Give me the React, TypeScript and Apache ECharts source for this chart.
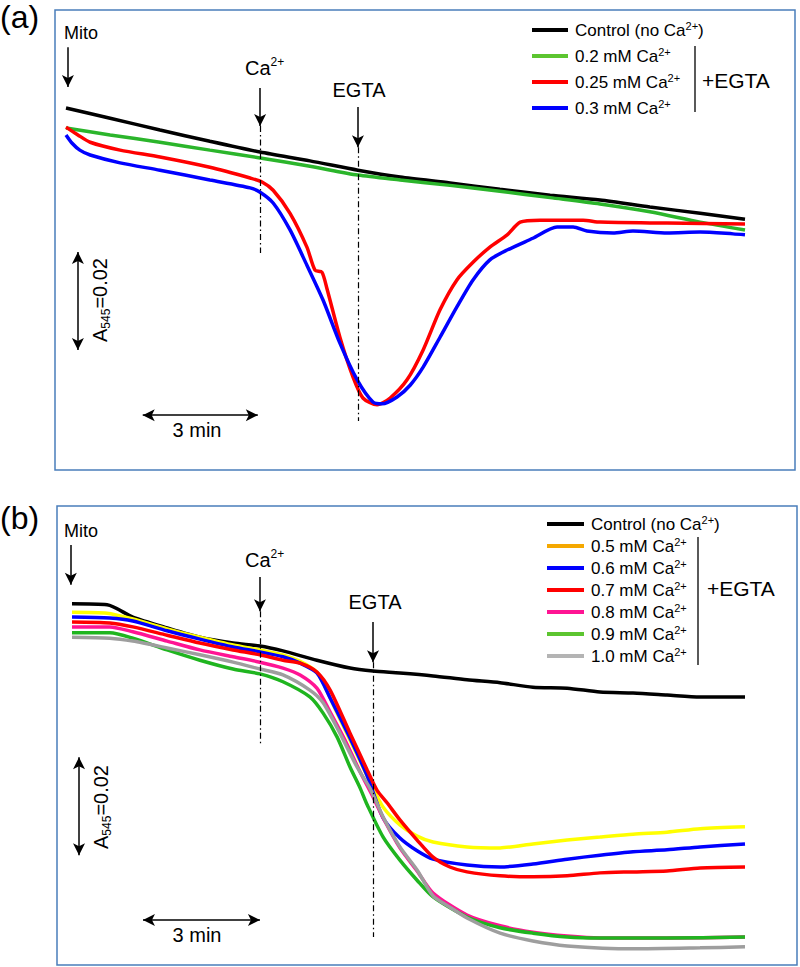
import React, { useEffect, useRef } from 'react';
import * as echarts from 'echarts';

const FONT = '"Liberation Sans", Arial, Helvetica, sans-serif';

// x: time in minutes after mitochondria addition; y: A545 x 1000 (arbitrary offset)
// ---------- Panel (a) ----------
const aNames = ['Control (no Ca2+)', '0.2 mM Ca2+', '0.25 mM Ca2+', '0.3 mM Ca2+'];
const aColors = ['#000000', '#2bb52b', '#ff0000', '#0000ff'];
const aLegendColors = ['#000000', '#5cc530', '#ff0000', '#0000ff'];

const aControl = [[0,73.9],[1.15,71.8],[2.45,69.4],[3.75,67.1],[5.06,64.9],[6.36,63.1],[7.61,61.2],[8.71,59.8],[10.01,58.6],[11.31,57.3],[12.62,56.1],[13.92,55.1],[15.22,53.7],[16.53,52.4],[17.7,51.2]];
const aCa020 = [[0,69.8],[1.15,68.4],[2.45,66.9],[3.75,65.3],[5.06,63.7],[6.36,62.0],[7.61,60.2],[8.71,59.2],[10.01,58.1],[11.31,56.9],[12.62,55.6],[13.92,54.3],[15.22,52.7],[16.53,50.6],[17.7,49.0]];
const aCa025 = [[0,70.0],[0.31,68.4],[0.63,66.9],[1.41,65.3],[2.45,63.9],[3.75,61.8],[4.8,59.6],[5.11,58.8],[5.4,57.1],[5.84,52.4],[6.28,45.5],[6.49,40.8],[6.67,40.4],[6.8,37.1],[7.14,27.1],[7.48,19.0],[7.74,14.7],[8.11,13.3],[8.45,14.7],[8.89,18.4],[9.31,24.5],[9.75,32.7],[10.19,38.8],[10.61,42.4],[11.05,45.5],[11.5,48.0],[11.84,50.6],[12.36,51.0],[13.48,51.0],[13.92,50.6],[15.67,50.4],[17.7,50.2]];
const aCa030 = [[0,68.4],[0.16,66.7],[0.36,65.3],[0.63,64.3],[1.41,62.7],[2.45,61.2],[3.75,59.2],[4.8,57.6],[5.06,56.7],[5.4,54.5],[5.84,49.0],[6.28,41.8],[6.7,34.7],[7.14,25.9],[7.59,18.4],[8.0,13.9],[8.24,13.5],[8.63,14.9],[8.97,17.3],[9.31,21.0],[9.75,27.1],[10.19,33.3],[10.61,38.8],[11.05,42.9],[11.5,44.9],[12.17,47.3],[12.8,49.6],[13.22,49.6],[13.58,48.8],[14.26,48.4],[14.78,48.8],[15.67,48.4],[16.53,48.6],[17.39,48.2],[17.7,48.0]];
const aSeries = [aControl, aCa020, aCa025, aCa030];
// event times (min): Mito, Ca2+, EGTA
const aEvents = [0.05, 5.06, 7.61];

// ---------- Panel (b) ----------
const bNames = ['Control (no Ca2+)', '0.5 mM Ca2+', '0.6 mM Ca2+', '0.7 mM Ca2+', '0.8 mM Ca2+', '0.9 mM Ca2+', '1.0 mM Ca2+'];
const bColors = ['#000000', '#ffff00', '#0000ff', '#ff0000', '#ff1493', '#1fb51f', '#9e9e9e'];
const bLegendColors = ['#000000', '#f5a800', '#0000ff', '#ff0000', '#ff1493', '#5cc530', '#b4b4b4'];

const bControl = [[0,73.7],[0.9,73.5],[1.56,71.0],[2.44,68.8],[3.28,66.9],[4.13,65.7],[4.82,65.1],[5.41,64.1],[6.28,62.2],[7.13,60.6],[7.72,60.0],[8.41,59.6],[9.26,59.0],[10.13,58.2],[10.98,57.6],[11.82,56.7],[12.7,56.5],[13.54,55.7],[14.39,55.5],[15.26,55.1],[16.11,54.7],[17.26,54.7]];
const bCa05 = [[0,72.0],[0.9,71.8],[1.56,70.6],[2.44,68.6],[3.28,66.9],[4.13,65.3],[4.82,64.3],[5.41,63.3],[5.85,62.0],[6.28,59.8],[6.44,57.6],[6.8,51.4],[7.13,45.9],[7.46,40.4],[7.72,36.1],[7.98,32.2],[8.41,28.6],[8.85,26.3],[9.26,25.1],[10.13,24.1],[10.98,23.9],[11.82,24.7],[12.7,25.5],[13.54,26.1],[14.39,26.7],[15.26,27.1],[16.11,27.8],[17.26,28.2]];
const bCa06 = [[0,71.0],[0.97,70.8],[1.56,70.2],[2.44,68.2],[3.28,66.5],[4.13,64.9],[4.82,63.9],[5.41,62.9],[5.85,61.6],[6.28,59.6],[6.62,54.5],[7.13,46.3],[7.57,38.6],[7.98,30.0],[8.41,25.9],[8.85,23.3],[9.26,21.6],[10.13,20.4],[10.98,20.0],[11.82,20.6],[12.7,21.6],[13.54,22.4],[14.39,23.1],[15.26,23.5],[16.11,24.1],[17.26,24.7]];
const bCa07 = [[0,70.0],[0.97,69.8],[1.56,69.0],[2.44,67.3],[3.28,65.7],[4.13,64.3],[4.82,63.3],[5.41,62.2],[5.85,61.6],[6.28,59.8],[6.62,56.1],[7.13,47.3],[7.57,39.8],[7.82,35.7],[8.08,33.1],[8.41,29.6],[8.85,25.5],[9.26,22.0],[9.69,20.0],[10.13,19.0],[10.98,18.2],[11.82,18.0],[12.7,18.2],[13.54,18.8],[14.39,19.0],[15.26,19.2],[16.11,19.8],[17.26,20.0]];
const bCa08 = [[0,69.0],[0.97,69.0],[1.56,68.0],[2.44,66.1],[3.28,64.3],[4.13,62.9],[4.82,61.8],[5.41,60.6],[5.85,59.2],[6.28,56.5],[6.62,51.6],[7.0,45.9],[7.39,39.4],[7.72,34.3],[7.98,30.0],[8.41,23.9],[8.85,19.2],[9.26,14.7],[10.13,10.2],[10.98,8.0],[11.82,6.7],[12.7,5.9],[13.54,5.5],[15.26,5.5],[17.26,5.7]];
const bCa09 = [[0,67.8],[0.97,67.8],[1.56,66.7],[2.44,64.3],[3.28,62.2],[4.13,60.4],[4.82,59.4],[5.41,57.8],[6.1,54.7],[6.44,51.4],[6.8,46.5],[7.13,40.4],[7.39,36.1],[7.57,32.7],[7.98,26.1],[8.41,21.4],[8.85,17.3],[9.26,13.9],[10.13,9.8],[10.98,7.6],[11.82,6.5],[12.7,5.7],[13.54,5.5],[15.26,5.5],[17.26,5.7]];
const bCa10 = [[0,66.9],[0.97,66.7],[1.56,66.1],[2.44,64.7],[3.28,63.3],[4.13,61.8],[4.82,60.4],[5.41,59.2],[6.1,56.1],[6.44,53.5],[6.87,47.3],[7.31,40.4],[7.64,36.1],[7.98,30.2],[8.41,24.1],[8.85,19.4],[9.26,14.1],[9.69,11.8],[10.13,9.6],[10.98,6.5],[11.82,4.9],[12.7,3.9],[14.39,3.3],[16.11,3.5],[17.26,3.7]];
const bSeries = [bControl, bCa05, bCa06, bCa07, bCa08, bCa09, bCa10];
const bEvents = [-0.03, 4.82, 7.72];

const fmt = (s: string) => s.replace('Ca2+', 'Ca{sup|2+}');

const supStyle = (size: number) => ({ fontSize: size, lineHeight: size + 1, verticalAlign: 'top', fontFamily: FONT, fill: '#000', color: '#000' });
const subStyle = (size: number) => ({ fontSize: size, lineHeight: size + 1, verticalAlign: 'bottom', fontFamily: FONT, fill: '#000', color: '#000' });

function txt(text: string, x: number, y: number, size: number, align = 'center', extra: any = {}) {
  return {
    type: 'text', x, y, silent: true, ...extra,
    style: {
      text, fill: '#000', fontSize: size, fontFamily: FONT, lineHeight: size + 4,
      align, verticalAlign: 'middle', textAlign: align, textVerticalAlign: 'middle',
      rich: { sup: supStyle(Math.round(size * 0.6)), sub: subStyle(Math.round(size * 0.6)) },
    },
  };
}

function arrow(x1: number, y1: number, x2: number, y2: number, both = false) {
  return [
    { coord: [x1, y1], symbol: both ? 'arrow' : 'none' },
    { coord: [x2, y2], symbol: 'arrow' },
  ];
}
function seg(x1: number, y1: number, x2: number, y2: number) {
  return [{ coord: [x1, y1], symbol: 'none' }, { coord: [x2, y2], symbol: 'none' }];
}

const arrowMark = (data: any[]) => ({
  silent: true, symbol: ['none', 'arrow'], symbolSize: [9, 12], animation: false,
  label: { show: false }, emphasis: { disabled: true },
  lineStyle: { color: '#000', width: 1.5, type: 'solid' }, data,
});
const dashMark = (data: any[]) => ({
  silent: true, symbol: ['none', 'none'], animation: false,
  label: { show: false }, emphasis: { disabled: true },
  lineStyle: { color: '#000', width: 1.2, type: [6, 3, 1.5, 3] }, data,
});

function buildSeries(names: string[], datas: number[][][], colors: string[], gi: number, marks: any[]) {
  return names.map((name, i) => ({
    type: 'line', name, data: datas[i], xAxisIndex: gi, yAxisIndex: gi,
    showSymbol: false, symbol: 'none', smooth: 0.25, silent: true,
    color: colors[i], itemStyle: { color: colors[i] },
    lineStyle: { color: colors[i], width: 3.5 },
    emphasis: { disabled: true },
    markLine: marks[i],
  }));
}

const legendText = {
  color: '#000', fontSize: 17, fontFamily: FONT, lineHeight: 20, padding: [0, 0, 0, 2],
  rich: { sup: { fontSize: 11, lineHeight: 12, verticalAlign: 'top', fontFamily: FONT, color: '#000' } },
};

const aMarks = [
  arrowMark([
    arrow(aEvents[0], 86.3, aEvents[0], 78.2),
    arrow(aEvents[1], 78.0, aEvents[1], 70.2),
    arrow(aEvents[2], 74.1, aEvents[2], 65.9),
    arrow(0.31, 24.5, 0.31, 44.5, true),
    arrow(2.0, 11.2, 5.0, 11.2, true),
  ]),
  dashMark([seg(aEvents[1], 70.2, aEvents[1], 44.3), seg(aEvents[2], 65.9, aEvents[2], 10.0)]),
  undefined, undefined,
];
const bMarks = [
  arrowMark([
    arrow(bEvents[0], 85.7, bEvents[0], 77.6),
    arrow(bEvents[1], 79.2, bEvents[1], 72.2),
    arrow(bEvents[2], 70.0, bEvents[2], 61.8),
    arrow(0.18, 22.4, 0.18, 42.4, true),
    arrow(1.82, 9.2, 4.82, 9.2, true),
  ]),
  dashMark([seg(bEvents[1], 72.2, bEvents[1], 44.9), seg(bEvents[2], 61.8, bEvents[2], 5.7)]),
  undefined, undefined, undefined, undefined, undefined,
];

const option: any = {
  animation: false,
  backgroundColor: '#ffffff',
  grid: [
    { left: 58.33, right: 55, top: 10, bottom: 497 },
    { left: 64.2, right: 55, top: 506, bottom: 2 },
  ],
  xAxis: [
    { type: 'value', gridIndex: 0, min: -0.2, max: 17.7, show: false },
    { type: 'value', gridIndex: 1, min: -0.2, max: 17.26, show: false },
  ],
  yAxis: [
    { type: 'value', gridIndex: 0, min: 0, max: 93.9, show: false },
    { type: 'value', gridIndex: 1, min: 0, max: 93.67, show: false },
  ],
  legend: [
    {
      orient: 'vertical', left: 527, top: 15, itemWidth: 36, itemHeight: 4, itemGap: 6,
      icon: 'rect', selectedMode: false, formatter: fmt, textStyle: legendText,
      data: aNames.map((n, i) => ({ name: n, itemStyle: { color: aLegendColors[i] } })),
    },
    {
      orient: 'vertical', left: 542, top: 509, itemWidth: 37, itemHeight: 4, itemGap: 2,
      icon: 'rect', selectedMode: false, formatter: fmt, textStyle: legendText,
      data: bNames.map((n, i) => ({ name: n, itemStyle: { color: bLegendColors[i] } })),
    },
  ],
  series: [
    ...buildSeries(aNames, aSeries, aColors, 0, aMarks),
    ...buildSeries(bNames, bSeries, bColors, 1, bMarks),
  ],
  graphic: [
    { type: 'rect', silent: true, shape: { x: 55, y: 10, width: 740, height: 460 }, style: { fill: 'none', stroke: '#4a7ebb', lineWidth: 1.5 } },
    { type: 'rect', silent: true, shape: { x: 57, y: 506, width: 740, height: 459 }, style: { fill: 'none', stroke: '#4a7ebb', lineWidth: 1.5 } },
    txt('(a)', 0, 17, 32, 'left'),
    txt('(b)', 0, 518, 32, 'left'),
    // panel (a) annotations
    txt('Mito', 81, 33, 18),
    txt('Ca{sup|2+}', 245, 68, 20, 'left'),
    txt('EGTA', 359, 90, 20),
    txt('3 min', 197, 430, 20),
    txt('A{sub|545}=0.02', 100, 300, 20, 'center', { rotation: Math.PI / 2 }),
    txt('+EGTA', 702, 80, 21, 'left'),
    { type: 'line', silent: true, shape: { x1: 695, y1: 46, x2: 695, y2: 112 }, style: { stroke: '#000', lineWidth: 1.3 } },
    // panel (b) annotations
    txt('Mito', 81, 531, 18),
    txt('Ca{sup|2+}', 245, 560, 20, 'left'),
    txt('EGTA', 375, 602, 20),
    txt('3 min', 197, 935, 20),
    txt('A{sub|545}=0.02', 101, 807, 20, 'center', { rotation: Math.PI / 2 }),
    txt('+EGTA', 707, 588, 21, 'left'),
    { type: 'line', silent: true, shape: { x1: 698, y1: 537, x2: 698, y2: 665 }, style: { stroke: '#000', lineWidth: 1.3 } },
  ],
};

export default function App() {
  const ref = useRef<HTMLDivElement>(null);
  useEffect(() => {
    if (!ref.current) return;
    const chart = echarts.init(ref.current, null, { renderer: 'svg' });
    chart.setOption(option);
    return () => chart.dispose();
  }, []);
  return <div ref={ref} style={{ position: 'absolute', left: 0, top: 0, width: 800, height: 967 }} />;
}
